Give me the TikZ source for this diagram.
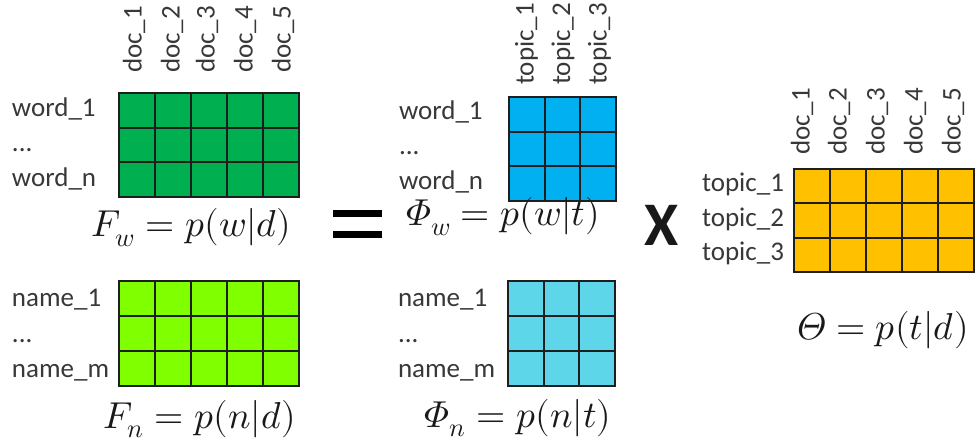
\documentclass[tikz,border=0pt]{standalone}
\usepackage{fontspec}
\usepackage[math-style=ISO]{unicode-math}
\setmathfont{Latin Modern Math}
\newfontfamily\labfont{Carlito}
\usetikzlibrary{calc}
\definecolor{cgreen}{HTML}{00B050}
\definecolor{clime}{HTML}{80FF00}
\definecolor{cblue}{HTML}{00B0F0}
\definecolor{ccyan}{HTML}{5DD6EA}
\definecolor{corange}{HTML}{FFC000}
\definecolor{cline}{HTML}{1E1E1E}
\definecolor{ctext}{HTML}{383838}
\tikzset{
  matbox/.style={draw=cline, line width=1.8pt, anchor=north west, inner sep=0pt, outer sep=0pt},
  gridline/.style={draw=cline, line width=1.8pt},
  lab/.style={font=\labfont\fontsize{27}{27}\selectfont, text=ctext, inner sep=0pt, outer sep=0pt},
  vlab/.style={lab, rotate=90, anchor=base west},
  hlab/.style={lab, anchor=base west},
  formula/.style={font=\fontsize{37.5}{37.5}\selectfont, text=black!90, inner sep=0pt, anchor=base},
  eqbar/.style={fill=black, draw=none}
}
\newcommand\gridmat[8]{%
  \node[matbox, fill=#8, minimum width=#4pt, minimum height=#5pt] (#1) at (#2,#3) {};
  \pgfmathtruncatemacro\nc{#6-1}
  \pgfmathtruncatemacro\nr{#7-1}
  \foreach \i in {1,...,\nc}
    \draw[gridline] ($(#1.north west)!\i/#6!(#1.north east)$) -- ($(#1.south west)!\i/#6!(#1.south east)$);
  \foreach \j in {1,...,\nr}
    \draw[gridline] ($(#1.north west)!\j/#7!(#1.south west)$) -- ($(#1.north east)!\j/#7!(#1.south east)$);
}
\begin{document}
\begin{tikzpicture}[x=1pt, y=-1pt]
\useasboundingbox (0,0) rectangle (979,443);

% matrices
\gridmat{fw}{119}{93}{180}{104}{5}{3}{cgreen}
\gridmat{fn}{119}{281}{180}{105}{5}{3}{clime}
\gridmat{phw}{509}{97}{107}{104}{3}{3}{cblue}
\gridmat{phn}{508}{281}{107}{105}{3}{3}{ccyan}
\gridmat{th}{794}{169}{180}{103}{5}{3}{corange}

% column labels, green
\node[vlab] (gd1) at (141.5,73) {doc\_1};
\node[vlab] (gd2) at (179.5,73) {doc\_2};
\node[vlab] (gd3) at (214.5,73) {doc\_3};
\node[vlab] (gd4) at (252.5,73) {doc\_4};
\node[vlab] (gd5) at (290.5,73) {doc\_5};
% column labels, blue
\node[vlab] (bt1) at (533.5,85) {topic\_1};
\node[vlab] (bt2) at (570,85) {topic\_2};
\node[vlab] (bt3) at (606.5,85) {topic\_3};
% column labels, orange
\node[vlab] (od1) at (809.5,155) {doc\_1};
\node[vlab] (od2) at (846.5,155) {doc\_2};
\node[vlab] (od3) at (884.5,155) {doc\_3};
\node[vlab] (od4) at (922.5,155) {doc\_4};
\node[vlab] (od5) at (960.5,155) {doc\_5};

% row labels
\node[hlab] (gw1) at (12,116.5) {word\_1};
\node[hlab] (gwd) at (12,151.5) {...};
\node[hlab] (gwn) at (12,186.5) {word\_n};
\node[hlab] (gn1) at (12,307) {name\_1};
\node[hlab] (gnd) at (12,342) {...};
\node[hlab] (gnm) at (12,377) {name\_m};
\node[hlab] (bw1) at (399,120) {word\_1};
\node[hlab] (bwd) at (399,155) {...};
\node[hlab] (bwn) at (399,189.5) {word\_n};
\node[hlab] (bn1) at (398,307) {name\_1};
\node[hlab] (bnd) at (398,342) {...};
\node[hlab] (bnm) at (398,377) {name\_m};
\node[hlab] (ot1) at (702,192) {topic\_1};
\node[hlab] (ot2) at (702,226.5) {topic\_2};
\node[hlab] (ot3) at (702,261) {topic\_3};

% formulas
\node[formula] (ffw) at (191.5,237) {$F_w = p(w|d)$};
\node[formula] (ffn) at (200,428) {$F_n = p(n|d)$};
\node[formula] (fphw) at (503,226) {$\Phi_w = p(w|t)$};
\node[formula] (fphn) at (518,427) {$\Phi_n = p(n|t)$};
\node[formula] (fth) at (883,339) {$\Theta = p(t|d)$};

% equals and times
\fill[eqbar] (333,210) rectangle (382,217);
\fill[eqbar] (333,231) rectangle (382,238);
\node[inner sep=0pt, font=\labfont\bfseries\fontsize{62}{62}\selectfont, text=black!90] (times) at (661.5,225) {X};
\end{tikzpicture}
\end{document}
